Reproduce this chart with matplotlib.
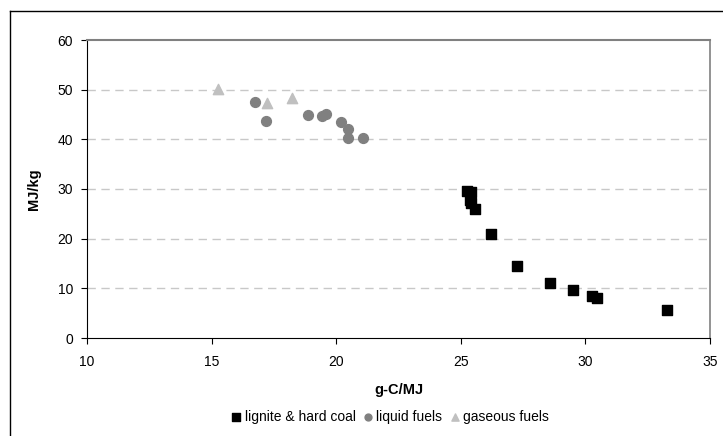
import matplotlib.pyplot as plt
from matplotlib.lines import Line2D

plt.rcParams['font.family'] = ['Liberation Sans', 'DejaVu Sans']

# Dados
coal_x = [25.24, 25.39, 25.37, 25.39, 25.57, 26.2, 27.24, 28.58, 29.49, 30.25, 30.48, 33.26]
coal_y = [29.5, 29.3, 27.8, 27.1, 26.0, 20.9, 14.5, 11.0, 9.7, 8.5, 8.1, 5.6]

liquid_x = [16.74, 17.18, 18.85, 19.45, 19.59, 20.19, 20.47, 20.47, 21.09]
liquid_y = [47.5, 43.7, 44.9, 44.7, 45.0, 43.5, 42.0, 40.2, 40.2]

gas_x = [15.27, 17.21, 18.21]
gas_y = [50.1, 47.4, 48.3]

fig = plt.figure(figsize=(7.23, 4.36), dpi=100)
ax = fig.add_axes([87 / 723, 98 / 436, 623 / 723, 298 / 436])

# moldura externa
fig.add_artist(Line2D([10 / 723, 1.0], [1 - 11 / 436, 1 - 11 / 436], color='black', lw=1.0))
fig.add_artist(Line2D([10 / 723, 10 / 723], [0, 1 - 11 / 436], color='black', lw=1.0))

ax.scatter(coal_x, coal_y, marker='s', s=55, color='black', zorder=3, label='lignite & hard coal')
ax.scatter(liquid_x, liquid_y, marker='o', s=50, color='#808080', zorder=3, label='liquid fuels')
ax.scatter(gas_x, gas_y, marker='^', s=55, color='#c0c0c0', zorder=3, label='gaseous fuels')

ax.set_xlim(10, 35)
ax.set_ylim(0, 60)
ax.set_xticks([10, 15, 20, 25, 30, 35])
ax.set_yticks([0, 10, 20, 30, 40, 50, 60])
ax.tick_params(labelsize=10, length=4, direction='out', width=0.8)
ax.tick_params(axis='x', pad=8)
ax.tick_params(axis='y', pad=6)

for yv in [10, 20, 30, 40, 50]:
    ax.axhline(yv, color='#c8c8c8', linestyle=(0, (6, 4)), lw=1.0, zorder=1)

ax.spines['top'].set_color('#808080')
ax.spines['top'].set_linewidth(1.5)
ax.spines['right'].set_color('#808080')
ax.spines['right'].set_linewidth(1.2)
ax.spines['left'].set_color('black')
ax.spines['bottom'].set_color('black')

ax.set_xlabel('g-C/MJ', fontsize=10.5, fontweight='bold', labelpad=10)
ax.set_ylabel('MJ/kg', fontsize=10.5, fontweight='bold', labelpad=12)

ax.legend(loc='upper center', bbox_to_anchor=(0.485, -0.2), ncol=3, frameon=False,
          fontsize=10, handletextpad=0.1, columnspacing=0.4, markerscale=0.7,
          handlelength=1.0)

plt.savefig('out.png', dpi=100)
